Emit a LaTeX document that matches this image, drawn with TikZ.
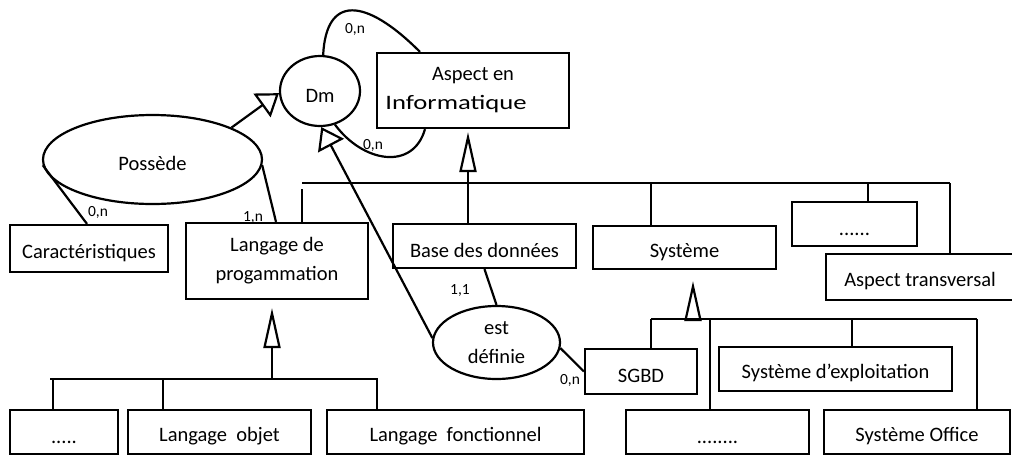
\documentclass[tikz,border=0pt]{standalone}
\usepackage{fontspec}
\usepackage{graphicx}
\setmainfont{Carlito}
\usetikzlibrary{shapes.geometric,arrows.meta}
\newcommand{\entfont}{\fontsize{20.5pt}{29pt}\selectfont}
\newcommand{\cardfont}{\fontsize{15.5pt}{18pt}\selectfont}
\newcommand{\lowstrut}{\rule{0pt}{23pt}}
\tikzset{
  ent/.style={draw, rectangle, inner sep=0pt, align=center, font=\entfont,
    execute at begin node=\lowstrut},
  ass/.style={draw, ellipse, inner sep=-8pt, align=center, font=\entfont,
    execute at begin node=\lowstrut},
  card/.style={inner sep=0pt, font=\cardfont},
  gen/.style={-{Triangle[open, length=40pt, width=17pt]}},
  dmarrow/.style={-{Triangle[open, length=21pt, width=29pt]}},
}
\begin{document}
\begin{tikzpicture}[x=1pt, y=-1pt, line width=2.2pt]
\useasboundingbox (0,0) rectangle (1012,456);
% nodes
\node[ass, minimum width=80pt, minimum height=70pt] (dm) at (320,91) {Dm};
\node[ent, minimum width=192pt, minimum height=75pt] (asp) at (473,90.5) {Aspect en\\\hspace*{-34pt}\scalebox{1.3}[1]{Informatique}};
\node[ass, minimum width=219pt, minimum height=89pt] (pos) at (152.5,159.5) {Possède};
\node[ent, minimum width=158pt, minimum height=47pt] (car) at (89,248.5) {Caractéristiques};
\node[ent, minimum width=182pt, minimum height=76pt] (lang) at (277,261) {Langage de\\progammation};
\node[ent, minimum width=183pt, minimum height=44pt] (bdd) at (484.5,246) {Base des données};
\node[ent, minimum width=183pt, minimum height=43pt] (sys) at (684.5,247.5) {Système};
\node[ent, minimum width=125pt, minimum height=44pt] (dotsA) at (854.5,224) {......};
\node[ent, minimum width=188pt, minimum height=46pt] (atr) at (920,277) {Aspect transversal};
\node[ass, minimum width=127pt, minimum height=73pt] (est) at (496.5,342.5) {est\\définie};
\node[ent, minimum width=112pt, minimum height=45pt] (sgbd) at (641,371.5) {SGBD};
\node[ent, minimum width=233pt, minimum height=44pt] (sexp) at (835.5,369) {Système d’exploitation};
\node[ent, minimum width=108pt, minimum height=44pt] (bA) at (64,432) {.....};
\node[ent, minimum width=183pt, minimum height=44pt] (bB) at (219.5,432) {Langage\ \ objet};
\node[ent, minimum width=257pt, minimum height=44pt] (bC) at (455.5,432) {Langage\ \ fonctionnel};
\node[ent, minimum width=183pt, minimum height=44pt] (bD) at (717.5,432) {........};
\node[ent, minimum width=186pt, minimum height=44pt] (bE) at (917,432) {Système Office};
% bus coordinates
\coordinate (gAa) at (302,183);
\coordinate (gAb) at (950,183);
\coordinate (gBa) at (50,379);
\coordinate (gBb) at (378,379);
\coordinate (gCa) at (651,319);
\coordinate (gCb) at (977,319);
% upper generalisation
\draw (gAa) -- (gAb);
\draw ([yshift=-6pt]gAa) -- (gAa |- lang.north);
\draw[gen, shorten >=3pt] ([xshift=-16.5pt]bdd.north) -- ([xshift=-5pt]asp.south);
\draw ([xshift=-33.5pt]sys.north |- gAa) -- ([xshift=-33.5pt]sys.north);
\draw ([xshift=13.5pt]dotsA.north |- gAa) -- ([xshift=13.5pt]dotsA.north);
\draw (gAb) -- (gAb |- atr.north);
% left lower generalisation
\draw (gBa) -- (gBb);
\draw[gen, shorten >=8pt] ([xshift=-5pt]lang.south |- gBa) -- ([xshift=-5pt]lang.south);
\draw ([xshift=-11pt]bA.north |- gBa) -- ([xshift=-11pt]bA.north);
\draw ([xshift=-56.5pt]bB.north |- gBa) -- ([xshift=-56.5pt]bB.north);
\draw ([xshift=-78.5pt]bC.north |- gBa) -- ([xshift=-78.5pt]bC.north);
% right lower generalisation
\draw (gCa) -- (gCb);
\draw[gen, shorten >=11pt] ([xshift=8.5pt]sys.south |- gCa) -- ([xshift=8.5pt]sys.south);
\draw ([xshift=10pt]sgbd.north |- gCa) -- ([xshift=10pt]sgbd.north);
\draw ([xshift=-7.5pt]bD.north |- gCa) -- ([xshift=-7.5pt]bD.north);
\draw ([xshift=16.5pt]sexp.north |- gCa) -- ([xshift=16.5pt]sexp.north);
\draw ([xshift=60pt]bE.north |- gCa) -- ([xshift=60pt]bE.north);
% Dm arrows
\draw[dmarrow] (pos.22) -- (dm.183);
\draw[dmarrow] (est.176) -- (dm.272);
% loops
\draw (dm.85) .. controls +(3,-60) and +(-55,-55) .. ([xshift=-53pt]asp.north);
\draw (dm.294) .. controls +(28,38) and +(-12,42) .. ([xshift=-48pt]asp.south);
% associations
\draw (pos.183) -- ([xshift=-2pt]car.north);
\draw (pos.357) -- ([xshift=-1pt]lang.north);
\draw (bdd.south) -- (est.north);
\draw (est.355) -- (sgbd.west);
% cardinalities
\node[card] (cA) at (355,29) {0,n};
\node[card] (cB) at (373,145) {0,n};
\node[card] (cC) at (98,212) {0,n};
\node[card] (cD) at (253,217) {1,n};
\node[card] (cE) at (460,290) {1,1};
\node[card] (cF) at (570,380) {0,n};
\end{tikzpicture}
\end{document}
